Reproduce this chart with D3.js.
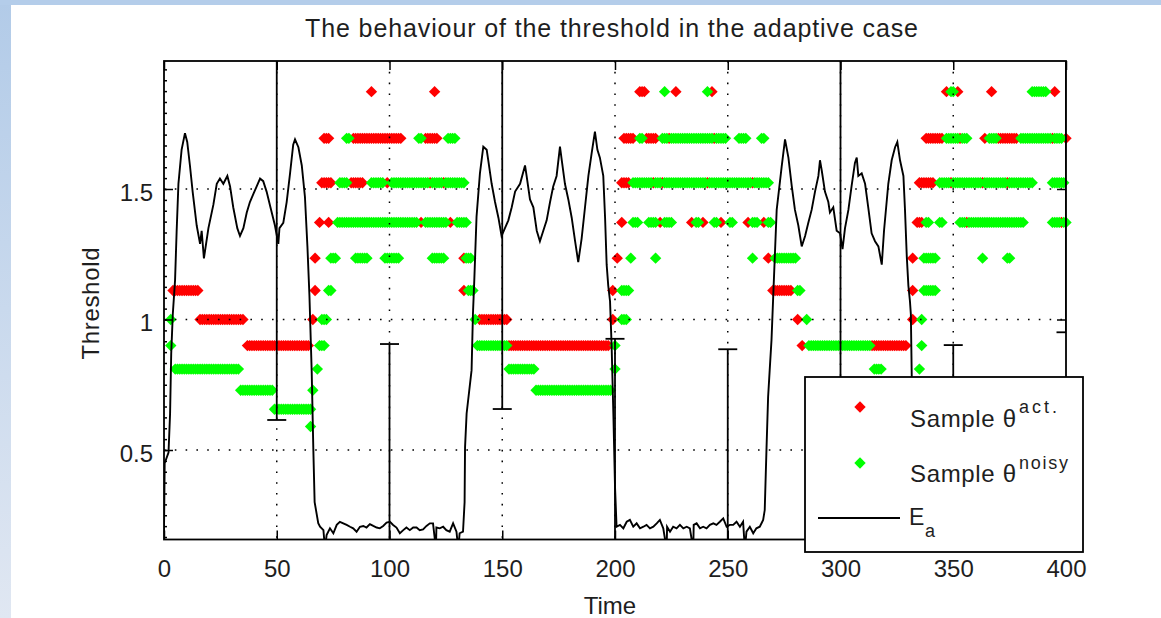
<!DOCTYPE html>
<meta charset="utf-8">
<style>
body{margin:0;background:#fff}
text{font-family:'Liberation Sans',Arial,sans-serif;fill:#1e1e1e}
</style>
<svg id="svg"></svg>
<script src="https://d3js.org/d3.v7.min.js"></script>
<script>
var width = 1161, height = 618

// threshold levels the samples sit on
var levels = [1.873, 1.694, 1.524, 1.372, 1.235, 1.111, 1.0, 0.9, 0.81, 0.729, 0.656, 0.59]

// sample runs: [level index, first time, last time], one marker per time step
var actRuns = [
  [0,92,92],[0,120,120],[0,211,213],[0,227,227],[0,243,243],[0,347,347],[0,352,352],[0,367,367],[0,395,395],
  [1,71,73],[1,84,105],[1,116,121],[1,204,208],[1,214,218],[1,224,224],[1,244,244],[1,338,345],[1,353,353],[1,364,364],[1,370,378],[1,394,394],[1,400,400],
  [2,70,74],[2,83,88],[2,99,99],[2,118,118],[2,124,124],[2,203,206],[2,217,217],[2,221,221],[2,241,241],[2,261,261],[2,335,341],[2,349,349],[2,363,363],[2,374,374],
  [3,69,69],[3,73,73],[3,114,114],[3,127,127],[3,203,203],[3,220,220],[3,234,234],[3,239,239],[3,247,247],[3,259,259],[3,266,266],[3,334,336],[3,356,356],[3,398,398],
  [4,67,67],[4,133,133],[4,201,201],[4,268,268],[4,332,332],
  [5,4,15],[5,67,67],[5,133,133],[5,199,199],[5,270,278],[5,332,332],
  [6,16,35],[6,66,66],[6,140,152],[6,199,199],[6,281,281],[6,332,332],
  [7,37,64],[7,153,197],[7,283,283],[7,314,329]
]

var noisyRuns = [
  [0,222,222],[0,241,241],[0,349,350],[0,385,391],
  [1,81,82],[1,113,114],[1,126,129],[1,211,212],[1,221,223],[1,225,243],[1,245,249],[1,255,258],[1,265,266],[1,347,352],[1,354,356],[1,366,369],[1,380,393],[1,395,398],
  [2,78,81],[2,92,97],[2,101,117],[2,119,123],[2,125,133],[2,208,216],[2,218,220],[2,222,240],[2,242,260],[2,262,268],[2,344,348],[2,350,362],[2,364,373],[2,375,385],[2,394,399],
  [3,77,112],[3,116,125],[3,130,134],[3,208,210],[3,215,218],[3,222,225],[3,236,237],[3,244,245],[3,251,252],[3,261,263],[3,268,269],[3,338,339],[3,344,345],[3,353,355],[3,357,381],[3,394,397],[3,399,400],
  [4,74,76],[4,85,90],[4,98,104],[4,119,124],[4,134,136],[4,207,207],[4,218,218],[4,261,261],[4,271,280],[4,337,342],[4,363,363],[4,374,375],
  [5,73,74],[5,135,137],[5,203,206],[5,281,282],[5,337,342],
  [6,3,3],[6,70,72],[6,138,138],[6,203,205],[6,285,285],[6,336,336],
  [7,3,3],[7,69,71],[7,139,152],[7,200,200],[7,286,313],[7,336,336],
  [8,5,33],[8,68,68],[8,153,164],[8,200,200],[8,315,318],[8,335,335],
  [9,34,48],[9,66,66],[9,165,198],
  [10,49,65],
  [11,65,65]
]

// E_a trace [time, value]
var Ea = [
  [0,0.19],[0.3,0.45],[2,0.49],[2.7,0.64],[3.2,0.87],[3.9,1.02],[4.9,1.15],[5.6,1.336],[6.4,1.52],[7.8,1.65],[9.3,1.714],[10.3,1.68],
  [11.5,1.59],[12.7,1.49],[14.5,1.36],[16,1.29],[16.7,1.34],[17.7,1.234],[19.7,1.35],[21.9,1.44],[23.4,1.52],[24.8,1.54],[26.3,1.52],
  [28.1,1.55],[29.3,1.51],[30.7,1.43],[32.5,1.35],[33.7,1.32],[35.2,1.35],[36.7,1.41],[38.1,1.45],[39.6,1.48],[41.1,1.51],[42.6,1.54],
  [44,1.53],[45.5,1.49],[47.2,1.43],[49.2,1.36],[50.7,1.29],[51.2,1.35],[52.9,1.37],[54.4,1.45],[55.9,1.56],[57.3,1.67],[58.1,1.69],
  [59.6,1.66],[61.1,1.59],[62.5,1.47],[63.6,1.28],[64.5,1.09],[65.5,0.8],[66.2,0.51],[66.8,0.3],[68.4,0.22],
  [69.2,0.206],[70.7,0.193],[71.4,0.12],[72.1,0.174],[73.6,0.2],[75.1,0.181],[76.6,0.213],[78,0.225],[79.5,0.219],[81,0.213],
  [82.5,0.206],[83.9,0.2],[85.4,0.187],[86.9,0.206],[88.4,0.209],[89.8,0.203],[91.3,0.216],[92.8,0.209],[94.3,0.203],[95.7,0.2],
  [97.2,0.209],[98.7,0.222],[100.2,0.225],[101.6,0.213],[103.1,0.203],[104.6,0.181],[106.1,0.193],[107.5,0.203],[109,0.193],
  [110.5,0.203],[112,0.203],[113.4,0.193],[114.9,0.196],[116.4,0.209],[117.9,0.219],[119.3,0.219],[120.6,0.12],[120.8,0.203],
  [122.3,0.2],[123.8,0.206],[125.2,0.193],[126.7,0.187],[128.2,0.219],[129.7,0.187],[130.5,0.12],[131.1,0.181],[132.6,0.187],
  [133.3,0.3],[133.5,0.51],[134.2,0.64],[136.4,0.806],[137,1.02],[137.6,1.15],[138.6,1.394],[140.1,1.56],[141.6,1.662],[143.1,1.65],
  [143.8,1.61],[145.3,1.52],[146.8,1.45],[148.3,1.39],[149.7,1.32],[151.2,1.35],[152.7,1.38],[154.2,1.43],[155.7,1.49],[157.9,1.52],
  [160.1,1.59],[160.8,1.55],[162.3,1.46],[163.8,1.43],[165.3,1.34],[166.7,1.3],[168.2,1.34],[169.7,1.38],[171.2,1.45],[172.6,1.51],
  [174.1,1.55],[175.6,1.662],[176.4,1.61],[177.8,1.52],[179.3,1.46],[180.8,1.39],[182.3,1.3],[183.7,1.22],[185.2,1.31],[186.7,1.43],
  [188.2,1.55],[189.7,1.64],[191.1,1.72],[192.2,1.65],[193.3,1.62],[194.8,1.55],[195.6,1.39],[196.3,1.21],[197,1.13],[197.8,1.07],
  [198.5,0.9],[199.3,0.63],[200,0.36],[200.7,0.206],
  [202.2,0.213],[203.7,0.2],[205.2,0.225],[206.6,0.232],[208.1,0.206],[209.6,0.219],[211.1,0.2],[212.6,0.206],[214,0.213],[215.5,0.2],
  [217,0.206],[218.5,0.219],[219.9,0.232],[221.4,0.2],[222.9,0.12],[223.1,0.206],[224.4,0.187],[225.8,0.206],[227.3,0.2],[228.8,0.213],
  [230.3,0.2],[231.8,0.206],[233.2,0.2],[234.7,0.12],[234.9,0.213],[236.2,0.219],[237.7,0.2],[239.1,0.206],[240.6,0.2],[242.1,0.213],
  [243.6,0.219],[245,0.213],[246.5,0.225],[248,0.238],[249.5,0.206],[250.9,0.213],[252.4,0.213],[253.9,0.225],[255.4,0.206],
  [256.8,0.225],[257.6,0.12],[258.3,0.187],[259.8,0.206],[261.3,0.181],[262.7,0.2],[264.2,0.206],[265.7,0.232],
  [266.4,0.27],[267.2,0.51],[267.9,0.704],[268.6,0.806],[269.4,0.921],[270.1,1.075],[271.7,1.42],[273.9,1.585],[275.4,1.69],
  [276.9,1.62],[278.4,1.51],[279.8,1.42],[281.3,1.36],[282.8,1.28],[284.3,1.32],[285.7,1.37],[287.2,1.42],[288.7,1.49],[290.2,1.55],
  [290.9,1.61],[291.7,1.57],[293.1,1.49],[294.6,1.45],[295.3,1.41],[296.8,1.43],[298.3,1.34],[299.8,1.33],[300.9,1.27],[302,1.35],
  [303.5,1.42],[304.9,1.51],[306.4,1.6],[307.2,1.62],[307.9,1.55],[309.4,1.56],[310.9,1.52],[312.3,1.43],[313.8,1.33],[315.3,1.3],
  [316.8,1.28],[318.3,1.21],[319.3,1.34],[321.2,1.52],[322.7,1.61],[324.2,1.66],[325.2,1.68],[326.4,1.61],[327.9,1.55],[328.6,1.42],
  [329.4,1.24],[330.1,1.13],[330.8,1.07],[331.2,1.02],[331.6,0.78],[332.2,0.55]
]

// error bars on E_a
var errT  = [50, 100, 150, 200, 250, 300, 350, 400]
var errLo = [0.615, -0.6, 0.657, -0.6, -0.6, 0.62, -0.6, 0.951]
var errHi = [2.6, 0.906, 2.6, 0.926, 0.886, 2.6, 0.902, 2.6]

var xTicks = [0, 50, 100, 150, 200, 250, 300, 350, 400]
var yTicks = [0.5, 1, 1.5]

var svg = d3.select('#svg').attr('width', width).attr('height', height)

// page backdrop with the blue edges
var defs = svg.append('defs')
var grad = defs.append('linearGradient').attr('id', 'edge')
  .attr('x1', 0).attr('y1', 0).attr('x2', 0).attr('y2', 1)
grad.append('stop').attr('offset', '0%').attr('stop-color', '#b2cbe8')
grad.append('stop').attr('offset', '100%').attr('stop-color', '#e0e7f2')
svg.append('rect').attr('width', width).attr('height', height).attr('fill', '#fff')
svg.append('rect').attr('width', 11).attr('height', height).attr('fill', 'url(#edge)')
svg.append('rect').attr('width', width).attr('height', 5).attr('fill', '#b4cdea')

var pL = 164, pR = 1066, pT = 61, pB = 539.5
var x = d3.scaleLinear().domain([0, 400]).range([pL, pR])
var y = d3.scaleLinear().domain([0.1571, 1.9904]).range([pB, pT])

defs.append('clipPath').attr('id', 'plot').append('rect')
  .attr('x', pL).attr('y', pT).attr('width', pR - pL).attr('height', pB - pT)

function expand(runs) {
  var pts = []
  runs.forEach(r => { for (var t = r[1]; t <= r[2]; t++) pts.push({t: t, v: levels[r[0]]}) })
  return pts
}
var diamond = 'M0,-5.7L5.7,0L0,5.7L-5.7,0Z'

// samples: actual first, noisy on top
svg.append('g').selectAll('path').data(expand(actRuns)).enter().append('path')
  .attr('d', diamond).attr('fill', '#ff0000')
  .attr('transform', d => 'translate(' + x(d.t) + ',' + y(d.v) + ')')
svg.append('g').selectAll('path').data(expand(noisyRuns)).enter().append('path')
  .attr('d', diamond).attr('fill', '#00ff00')
  .attr('transform', d => 'translate(' + x(d.t) + ',' + y(d.v) + ')')

var clip = svg.append('g').attr('clip-path', 'url(#plot)')

// E_a line
var line = d3.line().x(d => x(d[0])).y(d => y(d[1]))
clip.append('path').datum(Ea).attr('d', line)
  .attr('fill', 'none').attr('stroke', '#000').attr('stroke-width', 1.9)

// error bars
errT.forEach((t, i) => {
  var cx = x(t)
  clip.append('line').attr('x1', cx).attr('x2', cx).attr('y1', y(errLo[i])).attr('y2', y(errHi[i]))
    .attr('stroke', '#000').attr('stroke-width', 1.8)
  ;[errLo[i], errHi[i]].forEach(v => {
    clip.append('line').attr('x1', cx - 9.5).attr('x2', cx + 9.5).attr('y1', y(v)).attr('y2', y(v))
      .attr('stroke', '#000').attr('stroke-width', 1.8)
  })
})

// dotted grid
var grid = svg.append('g').attr('stroke', '#000').attr('stroke-width', 1.5).attr('stroke-dasharray', '1.6,9.2')
xTicks.slice(1, -1).forEach(t => {
  grid.append('line').attr('x1', x(t)).attr('x2', x(t)).attr('y1', pT).attr('y2', pB)
})
yTicks.forEach(v => {
  grid.append('line').attr('x1', pL).attr('x2', pR).attr('y1', y(v)).attr('y2', y(v))
})

// axes
function styleAxis(g) {
  g.select('.domain').remove()
  g.selectAll('.tick line').attr('stroke', '#000').attr('stroke-width', 1.5)
  g.selectAll('text').attr('font-size', 24).attr('fill', '#1e1e1e')
  g.attr('font-family', null).attr('font-size', null)
}
svg.append('g').attr('transform', 'translate(0,' + pB + ')')
  .call(d3.axisBottom(x).tickValues(xTicks).tickSizeInner(-9).tickSizeOuter(0).tickPadding(20.5))
  .call(styleAxis)
svg.append('g').attr('transform', 'translate(0,' + pT + ')')
  .call(d3.axisTop(x).tickValues(xTicks).tickSizeInner(-9).tickSizeOuter(0).tickFormat(''))
  .call(styleAxis)
svg.append('g').attr('transform', 'translate(' + pL + ',0)')
  .call(d3.axisLeft(y).tickValues(yTicks).tickSizeInner(-9).tickSizeOuter(0).tickPadding(11).tickFormat(d => String(d)))
  .call(styleAxis)
  .selectAll('text').attr('dy', '0.47em')
svg.append('g').attr('transform', 'translate(' + pL + ',0)')
  .call(d3.axisLeft(y).tickValues(d3.range(-8, 36).map(i => 0.5 + i / 24)).tickSizeInner(-3).tickSizeOuter(0).tickFormat(''))
  .call(styleAxis)
svg.append('g').attr('transform', 'translate(' + pR + ',0)')
  .call(d3.axisRight(y).tickValues(yTicks).tickSizeInner(-9).tickSizeOuter(0).tickFormat(''))
  .call(styleAxis)

svg.append('rect').attr('x', pL).attr('y', pT).attr('width', pR - pL).attr('height', pB - pT)
  .attr('fill', 'none').attr('stroke', '#000').attr('stroke-width', 1.8)

// titles
svg.append('text').attr('x', 611.5).attr('y', 36.7).attr('text-anchor', 'middle')
  .attr('font-size', 25).attr('textLength', 613).attr('lengthAdjust', 'spacing')
  .text('The behaviour of the threshold in the adaptive case')
svg.append('text').attr('x', 610).attr('y', 614).attr('text-anchor', 'middle')
  .attr('font-size', 24).text('Time')
svg.append('text').attr('transform', 'translate(99,303.5) rotate(-90)').attr('text-anchor', 'middle')
  .attr('font-size', 24).attr('textLength', 112).attr('lengthAdjust', 'spacing').text('Threshold')

// legend
var lg = svg.append('g')
lg.append('rect').attr('x', 805).attr('y', 377).attr('width', 278).attr('height', 175)
  .attr('fill', '#fff').attr('stroke', '#000').attr('stroke-width', 1.8)
lg.append('path').attr('d', diamond).attr('fill', '#ff0000').attr('transform', 'translate(860,407)')
lg.append('path').attr('d', diamond).attr('fill', '#00ff00').attr('transform', 'translate(860,463)')
lg.append('line').attr('x1', 818).attr('x2', 900).attr('y1', 518).attr('y2', 518)
  .attr('stroke', '#000').attr('stroke-width', 1.8)
lg.append('text').attr('x', 910).attr('y', 426.7).attr('font-size', 24)
  .attr('textLength', 106).attr('lengthAdjust', 'spacing').text('Sample \u03b8')
lg.append('text').attr('x', 1019).attr('y', 413.3).attr('font-size', 18)
  .attr('textLength', 38).attr('lengthAdjust', 'spacing').text('act.')
lg.append('text').attr('x', 910).attr('y', 481.7).attr('font-size', 24)
  .attr('textLength', 106).attr('lengthAdjust', 'spacing').text('Sample \u03b8')
lg.append('text').attr('x', 1019).attr('y', 469).attr('font-size', 18)
  .attr('textLength', 49).attr('lengthAdjust', 'spacing').text('noisy')
lg.append('text').attr('x', 909).attr('y', 525).attr('font-size', 23).text('E')
lg.append('text').attr('x', 925).attr('y', 537).attr('font-size', 18).text('a')
</script>
